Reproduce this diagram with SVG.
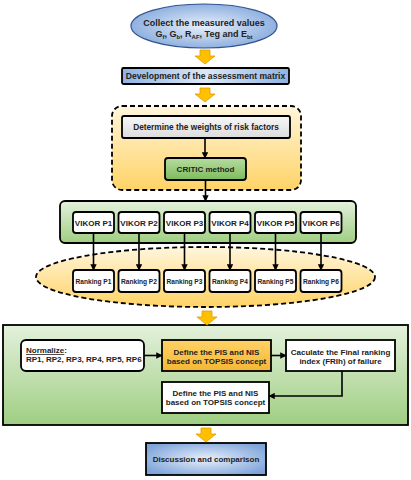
<svg xmlns="http://www.w3.org/2000/svg" width="411" height="480" viewBox="0 0 411 480">
<defs>
<radialGradient id="gBlue" cx="0.5" cy="0.5" r="0.6">
<stop offset="0" stop-color="#e8f0fb"/>
<stop offset="1" stop-color="#7ea4da"/>
</radialGradient>
<linearGradient id="gBlueH" x1="0" y1="0" x2="1" y2="0">
<stop offset="0" stop-color="#8fb2e3"/>
<stop offset="0.5" stop-color="#dce8f7"/>
<stop offset="1" stop-color="#8fb2e3"/>
</linearGradient>
<linearGradient id="gYellow" x1="0" y1="0" x2="0" y2="1">
<stop offset="0" stop-color="#fff6dc"/>
<stop offset="1" stop-color="#ffd366"/>
</linearGradient>
<linearGradient id="gGreen" x1="0" y1="0" x2="0" y2="1">
<stop offset="0" stop-color="#e4f1dc"/>
<stop offset="1" stop-color="#9fce82"/>
</linearGradient>
<linearGradient id="gGreenBox" x1="0" y1="0" x2="0" y2="1">
<stop offset="0" stop-color="#b6dca0"/>
<stop offset="1" stop-color="#7dbb5c"/>
</linearGradient>
<linearGradient id="gGray" x1="0" y1="0" x2="0" y2="1">
<stop offset="0" stop-color="#f7f7f7"/>
<stop offset="1" stop-color="#dcdcdc"/>
</linearGradient>
<linearGradient id="gOrange" x1="0" y1="0" x2="0" y2="1">
<stop offset="0" stop-color="#ffd266"/>
<stop offset="1" stop-color="#f5b733"/>
</linearGradient>
<marker id="ah" viewBox="0 0 10 10" refX="9" refY="5" markerWidth="4" markerHeight="4" orient="auto">
<path d="M0,0 L10,5 L0,10 z" fill="#000"/>
</marker>
<path id="fat" d="M-5,0 H5 V6 H10 L0,14 L-10,6 H-5 Z"/>
</defs>
<style>
.t{font-family:"Liberation Sans",Arial,sans-serif;font-weight:bold;fill:#222;text-anchor:middle}
.tl{font-family:"Liberation Sans",Arial,sans-serif;font-weight:bold;fill:#222;text-anchor:start}
.box{stroke:#000;stroke-width:1.8}
.wb{fill:#fff;stroke:#000;stroke-width:1.8}
.con{stroke:#000;stroke-width:1.6;fill:none;marker-end:url(#ah)}
.fa{fill:#ffc000;stroke:#e39a00;stroke-width:0.8}
.dash{stroke:#000;stroke-width:1.8;stroke-dasharray:5,3}
</style>

<g id="n-collect">
<ellipse cx="204" cy="26" rx="73" ry="22" fill="url(#gBlue)" stroke="#2f528f" stroke-width="1.2"/>
<text class="t" x="204" y="26" font-size="9">Collect the measured values</text>
<text class="t" x="204" y="37" font-size="9">G<tspan font-size="6" dy="2">f</tspan><tspan dy="-2">, G</tspan><tspan font-size="6" dy="2">b</tspan><tspan dy="-2">, R</tspan><tspan font-size="6" dy="2">AF</tspan><tspan dy="-2">, Teg and E</tspan><tspan font-size="6" dy="2">bt</tspan></text>
</g>

<g id="n-matrix">
<rect class="box" x="122" y="68" width="167" height="16" rx="1.5" fill="url(#gBlueH)"/>
<text class="t" x="205.5" y="79" font-size="8.6">Development of the assessment matrix</text>
</g>

<g id="n-weights-group">
<rect class="dash" x="112" y="106" width="189" height="84" rx="10" fill="url(#gYellow)"/>
</g>
<g id="n-weights">
<rect class="box" x="122" y="116" width="168" height="22" rx="2" fill="url(#gGray)"/>
<text class="t" x="206" y="130" font-size="8.3">Determine the weights of risk factors</text>
</g>
<g id="n-critic">
<rect class="box" x="165" y="158" width="81" height="22" rx="3" fill="url(#gGreenBox)"/>
<text class="t" x="205.5" y="172" font-size="8">CRITIC method</text>
</g>

<g id="n-vikor">
<rect class="box" x="60" y="201" width="296" height="42" rx="5" fill="url(#gGreen)"/>
<rect class="wb" x="73" y="212" width="41" height="21" rx="3"/>
<text class="t" x="93.5" y="225.5" font-size="8">VIKOR P1</text>
<rect class="wb" x="118.5" y="212" width="41" height="21" rx="3"/>
<text class="t" x="139" y="225.5" font-size="8">VIKOR P2</text>
<rect class="wb" x="164" y="212" width="41" height="21" rx="3"/>
<text class="t" x="184.5" y="225.5" font-size="8">VIKOR P3</text>
<rect class="wb" x="209.5" y="212" width="41" height="21" rx="3"/>
<text class="t" x="230" y="225.5" font-size="8">VIKOR P4</text>
<rect class="wb" x="255" y="212" width="41" height="21" rx="3"/>
<text class="t" x="275.5" y="225.5" font-size="8">VIKOR P5</text>
<rect class="wb" x="300.5" y="212" width="41" height="21" rx="3"/>
<text class="t" x="321" y="225.5" font-size="8">VIKOR P6</text>
</g>

<g id="n-ranking">
<ellipse class="dash" cx="205.5" cy="277" rx="169.5" ry="30" fill="url(#gYellow)"/>
<rect class="wb" x="73" y="270" width="41" height="22" rx="3"/>
<text class="t" x="93.5" y="283.5" font-size="6.6">Ranking P1</text>
<rect class="wb" x="118.5" y="270" width="41" height="22" rx="3"/>
<text class="t" x="139" y="283.5" font-size="6.6">Ranking P2</text>
<rect class="wb" x="164" y="270" width="41" height="22" rx="3"/>
<text class="t" x="184.5" y="283.5" font-size="6.6">Ranking P3</text>
<rect class="wb" x="209.5" y="270" width="41" height="22" rx="3"/>
<text class="t" x="230" y="283.5" font-size="6.6">Ranking P4</text>
<rect class="wb" x="255" y="270" width="41" height="22" rx="3"/>
<text class="t" x="275.5" y="283.5" font-size="6.6">Ranking P5</text>
<rect class="wb" x="300.5" y="270" width="41" height="22" rx="3"/>
<text class="t" x="321" y="283.5" font-size="6.6">Ranking P6</text>
</g>

<g id="n-topsis-group">
<rect class="box" x="3" y="325" width="405" height="100" fill="url(#gGreen)"/>
</g>
<g id="n-normalize">
<rect class="wb" x="21" y="340" width="123" height="31" rx="5"/>
<text class="tl" x="26" y="353" font-size="8"><tspan text-decoration="underline">Normalize</tspan>:</text>
<text class="tl" x="26" y="361.5" font-size="8">RP1, RP2, RP3, RP4, RP5, RP6</text>
</g>
<g id="n-pis1">
<rect class="box" x="162" y="340" width="109" height="31" fill="url(#gOrange)"/>
<text class="t" x="216.5" y="355" font-size="8">Define the PIS and NIS</text>
<text class="t" x="216.5" y="363.5" font-size="8">based on TOPSIS concept</text>
</g>
<g id="n-final">
<rect class="wb" x="286" y="340" width="109" height="31"/>
<text class="t" x="340.5" y="355" font-size="8">Caculate the Final ranking</text>
<text class="t" x="340.5" y="363.5" font-size="8">index (FRIh) of failure</text>
</g>
<g id="n-pis2">
<rect class="wb" x="162" y="382" width="107" height="31"/>
<text class="t" x="215.5" y="396" font-size="8">Define the PIS and NIS</text>
<text class="t" x="215.5" y="404.5" font-size="8">based on TOPSIS concept</text>
</g>

<g id="n-discussion">
<rect class="box" x="146" y="443" width="120" height="32" fill="url(#gBlue)"/>
<text class="t" x="206" y="462" font-size="8">Discussion and comparison</text>
</g>

<g id="connectors">
<use href="#fat" class="fa" x="205" y="50"/>
<use href="#fat" class="fa" x="205" y="88"/>
<use href="#fat" class="fa" x="207" y="311"/>
<use href="#fat" class="fa" x="206" y="428"/>
<line class="con" x1="205" y1="138" x2="205" y2="158"/>
<line class="con" x1="205.5" y1="180" x2="205.5" y2="201"/>
<line class="con" x1="93.5" y1="233" x2="93.5" y2="270"/>
<line class="con" x1="139" y1="233" x2="139" y2="270"/>
<line class="con" x1="184.5" y1="233" x2="184.5" y2="270"/>
<line class="con" x1="230" y1="233" x2="230" y2="270"/>
<line class="con" x1="275.5" y1="233" x2="275.5" y2="270"/>
<line class="con" x1="321" y1="233" x2="321" y2="270"/>
<line class="con" x1="144" y1="355.5" x2="162" y2="355.5"/>
<line class="con" x1="271" y1="355.5" x2="286" y2="355.5"/>
<polyline class="con" points="342,371 342,396 269,396"/>
</g>
</svg>
